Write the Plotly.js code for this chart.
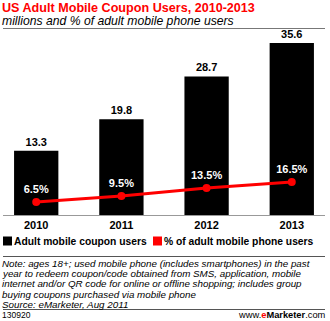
<!DOCTYPE html>
<html><head><meta charset="utf-8">
<script src="https://cdn.plot.ly/plotly-3.0.1.min.js"></script>
<style>html,body{margin:0;padding:0;background:#fff}</style>
</head><body><div id="c" style="width:330px;height:321px"></div>
<script>
const years = ['2010','2011','2012','2013'];
const couponUsers = [13.3, 19.8, 28.7, 35.6];
const pctPhoneUsers = [6.5, 9.5, 13.5, 16.5];
const couponLabels = ['13.3','19.8','28.7','35.6'];
const pctLabels = ['6.5%','9.5%','13.5%','16.5%'];

const W=330,H=321,L=3,R=5,T=35,B=106;
const PW=W-L-R, PH=H-T-B;
const px=x=>(x-L)/PW, py=y=>(H-B-y)/PH;
const F='"Liberation Sans", Arial, sans-serif';

const traces=[
 {type:'bar',x:years,y:couponUsers,width:0.52,marker:{color:'#000'},
  text:couponLabels,textposition:'outside',cliponaxis:false,
  textfont:{family:F,size:11,color:'#000',weight:'bold'},hoverinfo:'none',showlegend:false},
 {type:'scatter',mode:'lines+markers+text',x:years,y:pctPhoneUsers,yaxis:'y2',
  text:pctLabels,textposition:'top center',
  textfont:{family:F,size:11,color:'#fff',weight:'bold'},
  line:{color:'#ff0000',width:3},marker:{color:'#ff0000',size:8},
  cliponaxis:false,showlegend:false,hoverinfo:'none'}
];
const ann=[];
function A(text,x,y,opt){ann.push(Object.assign({text,x:px(x),y:py(y),xref:'paper',yref:'paper',showarrow:false,
  xanchor:'left',yanchor:'middle',borderpad:0,font:{family:F,size:11,color:'#000'}},opt||{}));}
A('<b>US Adult Mobile Coupon Users, 2010-2013</b>',1,7.5,{font:{family:F,size:12.6,color:'#ff0000'}});
A('<i>millions and % of adult mobile phone users</i>',1,21,{font:{family:F,size:12.2,color:'#000'}});
A('<b>Adult mobile coupon users</b>',13,241,{font:{family:F,size:10.3,color:'#000'}});
A('<b>% of adult mobile phone users</b>',163,241,{font:{family:F,size:10.3,color:'#000'}});
const notes=['Note: ages 18+; used mobile phone (includes smartphones) in the past',
'year to redeem coupon/code obtained from SMS, application, mobile',
'internet and/or QR code for online or offline shopping; includes group',
'buying coupons purchased via mobile phone','Source: eMarketer, Aug 2011'];
notes.forEach((n,i)=>A('<i>'+n+'</i>',1,263.5+i*10.2,{font:{family:F,size:9.8,color:'#000'}}));
A('130920',1,315,{font:{family:F,size:8.5,color:'#000'}});
A('www.<span style="color:#ff0000"><b>e</b></span><b>Marketer</b>.com',327,315,{xanchor:'right',font:{family:F,size:9.3,color:'#000'}});

const shapes=[
 {type:'line',xref:'paper',yref:'paper',x0:px(3),x1:px(325),y0:py(28.5),y1:py(28.5),line:{color:'#777',width:1}},
 {type:'line',xref:'paper',yref:'paper',x0:px(3),x1:px(325),y0:py(256.5),y1:py(256.5),line:{color:'#555',width:1}},
 {type:'line',xref:'paper',yref:'paper',x0:px(3),x1:px(325),y0:py(309.5),y1:py(309.5),line:{color:'#555',width:1}},
 {type:'rect',xref:'paper',yref:'paper',x0:px(3),x1:px(12),y0:py(236.5),y1:py(245.5),fillcolor:'#000',line:{width:0}},
 {type:'rect',xref:'paper',yref:'paper',x0:px(153),x1:px(162),y0:py(236.5),y1:py(245.5),fillcolor:'#ff0000',line:{width:0}}
];
const layout={width:W,height:H,margin:{l:L,r:R,t:T,b:B},paper_bgcolor:'#fff',plot_bgcolor:'#fff',
 showlegend:false,
 xaxis:{type:'category',range:[-0.39,3.39],showline:true,linecolor:'#999',linewidth:1,ticks:'',
   tickfont:{family:F,size:11,color:'#000',weight:'bold'},showgrid:false,fixedrange:true},
 yaxis:{range:[0,37.27],visible:false,showgrid:false,zeroline:false},
 yaxis2:{range:[0,90],overlaying:'y',visible:false,showgrid:false,zeroline:false},
 annotations:ann,shapes:shapes,font:{family:F}};
Plotly.newPlot('c',traces,layout,{staticPlot:true});
</script></body></html>
